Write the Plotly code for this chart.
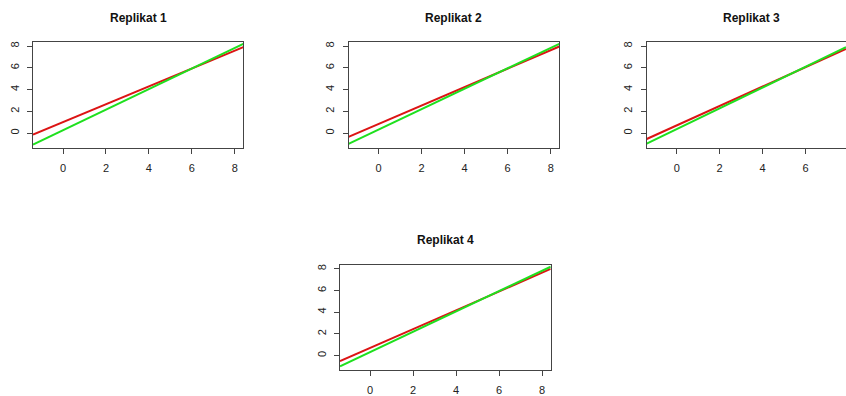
import plotly.graph_objects as go

# Panel titles
replicates = ["Replikat 1", "Replikat 2", "Replikat 3", "Replikat 4"]

# Fitted lines per replicate: x positions and y values (red and green fits)
fit_x = [[-1.4, 8.4], [-1.4, 8.4], [-1.4, 7.89], [-1.4, 8.4]]
red_y = [[-0.15, 7.91], [-0.36, 7.97], [-0.55, 7.76], [-0.52, 8.0]]
green_y = [[-1.06, 8.22], [-1.0, 8.22], [-0.97, 7.91], [-1.0, 8.2]]

tick_vals = [0, 2, 4, 6, 8]
tick_text = ["0", "2", "4", "6", "8"]

W, H = 846, 396
FONT = "Liberation Sans, Arial, sans-serif"
# panel boxes in pixels: (left, right, top, bottom)
boxes = [
    (33.0, 243.3, 41.7, 148.3),
    (348.5, 559.3, 41.7, 148.3),
    (646.7, 846.0, 41.7, 148.3),
    (340.0, 550.7, 266.7, 373.0),
]
x_ranges = [[-1.4, 8.4], [-1.4, 8.4], [-1.4, 7.89], [-1.4, 8.4]]
y_range = [-1.36, 8.36]
PANEL_W = 210.5

fig = go.Figure()
layout = dict(
    width=W, height=H,
    margin=dict(l=0, r=0, t=0, b=0),
    paper_bgcolor="white", plot_bgcolor="white",
    showlegend=False,
    font=dict(family=FONT, color="#222"),
    annotations=[],
)

axis_common = dict(
    showgrid=False, zeroline=False, showline=True, linecolor="#444",
    linewidth=1, ticks="outside", ticklen=5, tickwidth=1, tickcolor="#444",
    tickvals=tick_vals, ticktext=tick_text,
    tickfont=dict(size=11, color="#222", family=FONT),
    fixedrange=True,
)

for i, (title, (l, r, t, b)) in enumerate(zip(replicates, boxes)):
    n = "" if i == 0 else str(i + 1)
    xa, ya = "x" + n, "y" + n
    fig.add_trace(go.Scatter(x=fit_x[i], y=red_y[i], mode="lines",
                             line=dict(color="#dc1414", width=2),
                             xaxis=xa, yaxis=ya, hoverinfo="skip"))
    fig.add_trace(go.Scatter(x=fit_x[i], y=green_y[i], mode="lines",
                             line=dict(color="#1ee01e", width=2),
                             xaxis=xa, yaxis=ya, hoverinfo="skip"))
    layout["xaxis" + n] = dict(
        axis_common, domain=[l / W, min(r / W, 1.0)], range=x_ranges[i],
        anchor=ya, mirror=True, ticklabelstandoff=5,
    )
    layout["yaxis" + n] = dict(
        axis_common, domain=[(H - b) / H, (H - t) / H], range=y_range,
        anchor=xa, mirror=(r < W), tickangle=-90, ticklabelstandoff=4,
    )
    # the third panel runs past the page edge, so centre on its full width
    full_center = (l + (l + PANEL_W)) / 2 if i == 2 else (l + r) / 2
    layout["annotations"].append(dict(
        text="<b>" + title + "</b>", x=full_center / W, y=(H - (t - 25)) / H,
        xref="paper", yref="paper", showarrow=False,
        xanchor="center", yanchor="middle",
        font=dict(size=12, color="#111", family=FONT),
    ))

fig.update_layout(**layout)
fig.write_html("out.html", config={"displayModeBar": False})
